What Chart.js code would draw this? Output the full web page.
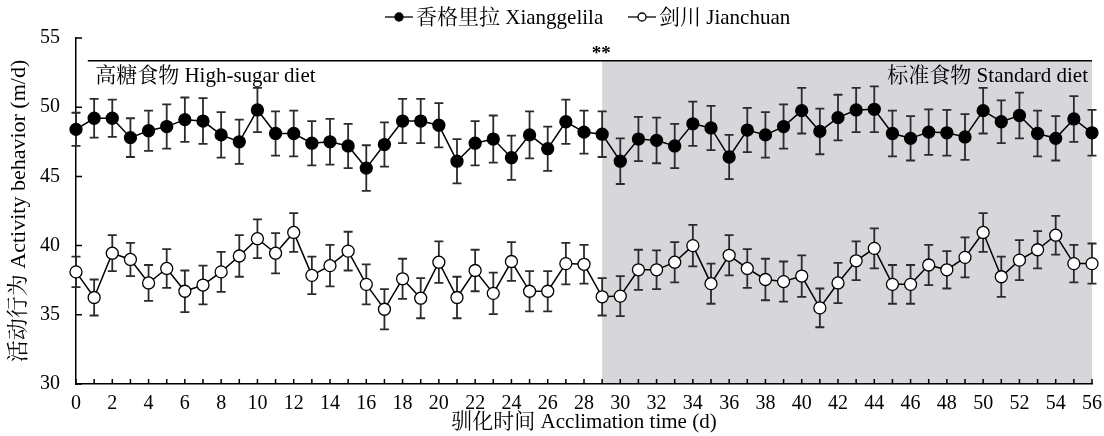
<!DOCTYPE html>
<html>
<head>
<meta charset="utf-8">
<script src="https://cdn.jsdelivr.net/npm/chart.js@4.4.1/dist/chart.umd.min.js"></script>
<style>
  html, body { margin: 0; padding: 0; background: #fff; }
  #wrap { width: 1104px; height: 436px; }
</style>
</head>
<body>
<div id="wrap"><canvas id="chart" width="1104" height="436"></canvas></div>
<script>
"use strict";

// ---------- Data ----------
const days = [0, 1, 2, 3, 4, 5, 6, 7, 8, 9, 10, 11, 12, 13, 14, 15, 16, 17, 18, 19,
  20, 21, 22, 23, 24, 25, 26, 27, 28, 29, 30, 31, 32, 33, 34, 35, 36, 37, 38, 39,
  40, 41, 42, 43, 44, 45, 46, 47, 48, 49, 50, 51, 52, 53, 54, 55, 56];

// 香格里拉 Xianggelila (mean, SE)
const xgMean = [48.4, 49.2, 49.2, 47.8, 48.3, 48.6, 49.1, 49.0, 48.0, 47.5,
  49.8, 48.1, 48.1, 47.4, 47.5, 47.2, 45.6, 47.3, 49.0, 49.0,
  48.7, 46.1, 47.4, 47.7, 46.35, 48.0, 47.0, 48.95, 48.2, 48.05,
  46.1, 47.7, 47.6, 47.2, 48.8, 48.5, 46.4, 48.35, 48.0, 48.6,
  49.75, 48.25, 49.25, 49.8, 49.85, 48.1, 47.75, 48.2, 48.15, 47.85,
  49.75, 48.95, 49.4, 48.1, 47.75, 49.15, 48.15];
const xgErr = [1.2, 1.4, 1.35, 1.4, 1.45, 1.6, 1.6, 1.65, 1.65, 1.6,
  1.6, 1.6, 1.65, 1.6, 1.65, 1.6, 1.65, 1.6, 1.6, 1.6,
  1.6, 1.6, 1.6, 1.7, 1.6, 1.7, 1.6, 1.6, 1.55, 1.65,
  1.65, 1.6, 1.65, 1.6, 1.6, 1.6, 1.6, 1.6, 1.65, 1.6,
  1.65, 1.65, 1.65, 1.6, 1.65, 1.65, 1.6, 1.65, 1.65, 1.65,
  1.65, 1.55, 1.65, 1.65, 1.6, 1.65, 1.65];

// 剑川 Jianchuan (mean, SE)
const jcMean = [38.1, 36.25, 39.45, 39.0, 37.3, 38.35, 36.7, 37.15, 38.1, 39.25,
  40.5, 39.45, 40.95, 37.85, 38.55, 39.6, 37.2, 35.4, 37.6, 36.2,
  38.8, 36.25, 38.2, 36.55, 38.85, 36.7, 36.7, 38.7, 38.65, 36.3,
  36.35, 38.25, 38.25, 38.8, 40.0, 37.25, 39.3, 38.35, 37.55, 37.4,
  37.8, 35.5, 37.3, 38.9, 39.8, 37.2, 37.2, 38.6, 38.25, 39.15,
  40.95, 37.75, 38.95, 39.7, 40.75, 38.7, 38.7];
const jcErr = [1.1, 1.3, 1.3, 1.2, 1.3, 1.4, 1.5, 1.4, 1.45, 1.5,
  1.4, 1.45, 1.4, 1.35, 1.5, 1.4, 1.45, 1.45, 1.45, 1.45,
  1.5, 1.5, 1.5, 1.5, 1.4, 1.45, 1.45, 1.5, 1.4, 1.35,
  1.45, 1.45, 1.4, 1.45, 1.5, 1.45, 1.45, 1.4, 1.5, 1.45,
  1.5, 1.4, 1.45, 1.4, 1.45, 1.4, 1.4, 1.45, 1.35, 1.45,
  1.4, 1.45, 1.45, 1.35, 1.4, 1.35, 1.45];

const yTicks = [30, 35, 40, 45, 50, 55];
const seriesNames = ["香格里拉 Xianggelila", "剑川 Jianchuan"];
const phaseNames = ["高糖食物 High-sugar diet", "标准食物 Standard diet"];
const switchDay = 29;      // diet change
const bracketStart = 0.65; // top line start (day)
const bracketLevel = 53.35;
const sigMark = "**";

const FONT = '"Liberation Serif", "Times New Roman", "Noto Serif CJK SC", "Noto Sans CJK SC", serif';

// ---------- Plugins ----------
const shadePlugin = {
  id: "shade",
  beforeDraw(chart) {
    const { ctx, scales: { x, y } } = chart;
    const left = x.getPixelForValue(switchDay);
    const right = x.getPixelForValue(days[days.length - 1]);
    const top = y.getPixelForValue(bracketLevel);
    const bottom = y.getPixelForValue(30);
    ctx.save();
    ctx.fillStyle = "#d7d6da";
    ctx.fillRect(left, top, right - left, bottom - top);
    ctx.restore();
  },
};

const errorBarPlugin = {
  id: "errorBars",
  beforeDatasetsDraw(chart) {
    const { ctx, scales: { x, y } } = chart;
    ctx.save();
    ctx.strokeStyle = "#2b2b2b";
    ctx.lineWidth = 1.8;
    chart.data.datasets.forEach((ds) => {
      ds.means.forEach((m, i) => {
        const px = x.getPixelForValue(days[i]);
        const top = y.getPixelForValue(m + ds.errors[i]);
        const bot = y.getPixelForValue(m - ds.errors[i]);
        ctx.beginPath();
        ctx.moveTo(px, top); ctx.lineTo(px, bot);
        ctx.moveTo(px - 4.5, top); ctx.lineTo(px + 4.5, top);
        ctx.moveTo(px - 4.5, bot); ctx.lineTo(px + 4.5, bot);
        ctx.stroke();
      });
    });
    ctx.restore();
  },
};

const decorPlugin = {
  id: "decor",
  afterDraw(chart) {
    const { ctx, chartArea: area, scales: { x, y } } = chart;
    ctx.save();
    ctx.strokeStyle = "#000";
    ctx.lineWidth = 1.5;

    // inward ticks
    ctx.beginPath();
    days.forEach((d) => {
      const px = x.getPixelForValue(d);
      ctx.moveTo(px, area.bottom); ctx.lineTo(px, area.bottom - 5);
    });
    yTicks.forEach((v) => {
      const py = y.getPixelForValue(v);
      ctx.moveTo(area.left, py); ctx.lineTo(area.left + 6, py);
    });
    ctx.stroke();

    // top line
    const ly = y.getPixelForValue(bracketLevel);
    ctx.beginPath();
    ctx.moveTo(x.getPixelForValue(bracketStart), ly);
    ctx.lineTo(x.getPixelForValue(days[days.length - 1]), ly);
    ctx.stroke();

    // texts
    ctx.fillStyle = "#000";
    ctx.font = "bold 19px " + FONT;
    ctx.textAlign = "center";
    ctx.textBaseline = "bottom";
    ctx.fillText(sigMark, x.getPixelForValue(switchDay) - 1, ly + 3);

    ctx.font = "21px " + FONT;
    ctx.textBaseline = "middle";
    const ty = y.getPixelForValue(52.2);
    ctx.textAlign = "left";
    ctx.fillText(phaseNames[0], x.getPixelForValue(1) + 1, ty);
    ctx.textAlign = "right";
    ctx.fillText(phaseNames[1], area.right - 4, ty);

    // legend
    ctx.font = "21px " + FONT;
    ctx.textAlign = "left";
    const legendY = 17;
    const items = [
      { x0: 385, fill: "#000", text: seriesNames[0] },
      { x0: 628, fill: "#fff", text: seriesNames[1] },
    ];
    items.forEach((it) => {
      ctx.lineWidth = 1.3;
      ctx.beginPath();
      ctx.moveTo(it.x0, legendY); ctx.lineTo(it.x0 + 28, legendY);
      ctx.stroke();
      ctx.beginPath();
      ctx.arc(it.x0 + 14, legendY, 4, 0, Math.PI * 2);
      ctx.fillStyle = it.fill;
      ctx.fill();
      ctx.stroke();
      ctx.fillStyle = "#000";
      ctx.fillText(it.text, it.x0 + 31, legendY + 1);
    });
    ctx.restore();
  },
};

// ---------- Chart ----------
function series(label, means, errors, fill) {
  return {
    label,
    means,
    errors,
    data: days.map((d, i) => ({ x: d, y: means[i] })),
    borderColor: "#000",
    borderWidth: 1.5,
    tension: 0,
    pointRadius: 6,
    pointHoverRadius: 6,
    pointBackgroundColor: fill,
    pointBorderColor: "#000",
    pointBorderWidth: 1.3,
    clip: false,
  };
}

const tickFont = { family: FONT, size: 20 };

new Chart(document.getElementById("chart"), {
  type: "line",
  data: {
    datasets: [
      series(seriesNames[0], xgMean, xgErr, "#000"),
      series(seriesNames[1], jcMean, jcErr, "#fff"),
    ],
  },
  options: {
    responsive: false,
    animation: false,
    layout: { padding: { top: 38, right: 12, left: 0, bottom: 0 } },
    plugins: { legend: { display: false }, tooltip: { enabled: false } },
    scales: {
      x: {
        type: "linear",
        min: 0,
        max: 56,
        ticks: { stepSize: 2, autoSkip: false, maxRotation: 0, color: "#000", font: tickFont, padding: 0 },
        grid: { display: false },
        border: { color: "#000", width: 1.5 },
        title: { display: true, text: "驯化时间 Acclimation time (d)", color: "#000", font: { family: FONT, size: 21 }, padding: { top: 0, bottom: 1 } },
        afterFit: (s) => { s.height = 52; },
      },
      y: {
        min: 30,
        max: 55,
        ticks: { stepSize: 5, color: "#000", font: tickFont, padding: 8 },
        grid: { display: false },
        border: { color: "#000", width: 1.5 },
        title: { display: true, text: "活动行为 Activity behavior (m/d)", color: "#000", font: { family: FONT, size: 22 }, padding: { top: 6, bottom: 0 } },
        afterFit: (s) => { s.width = 76; },
      },
    },
  },
  plugins: [shadePlugin, errorBarPlugin, decorPlugin],
});
</script>
</body>
</html>
